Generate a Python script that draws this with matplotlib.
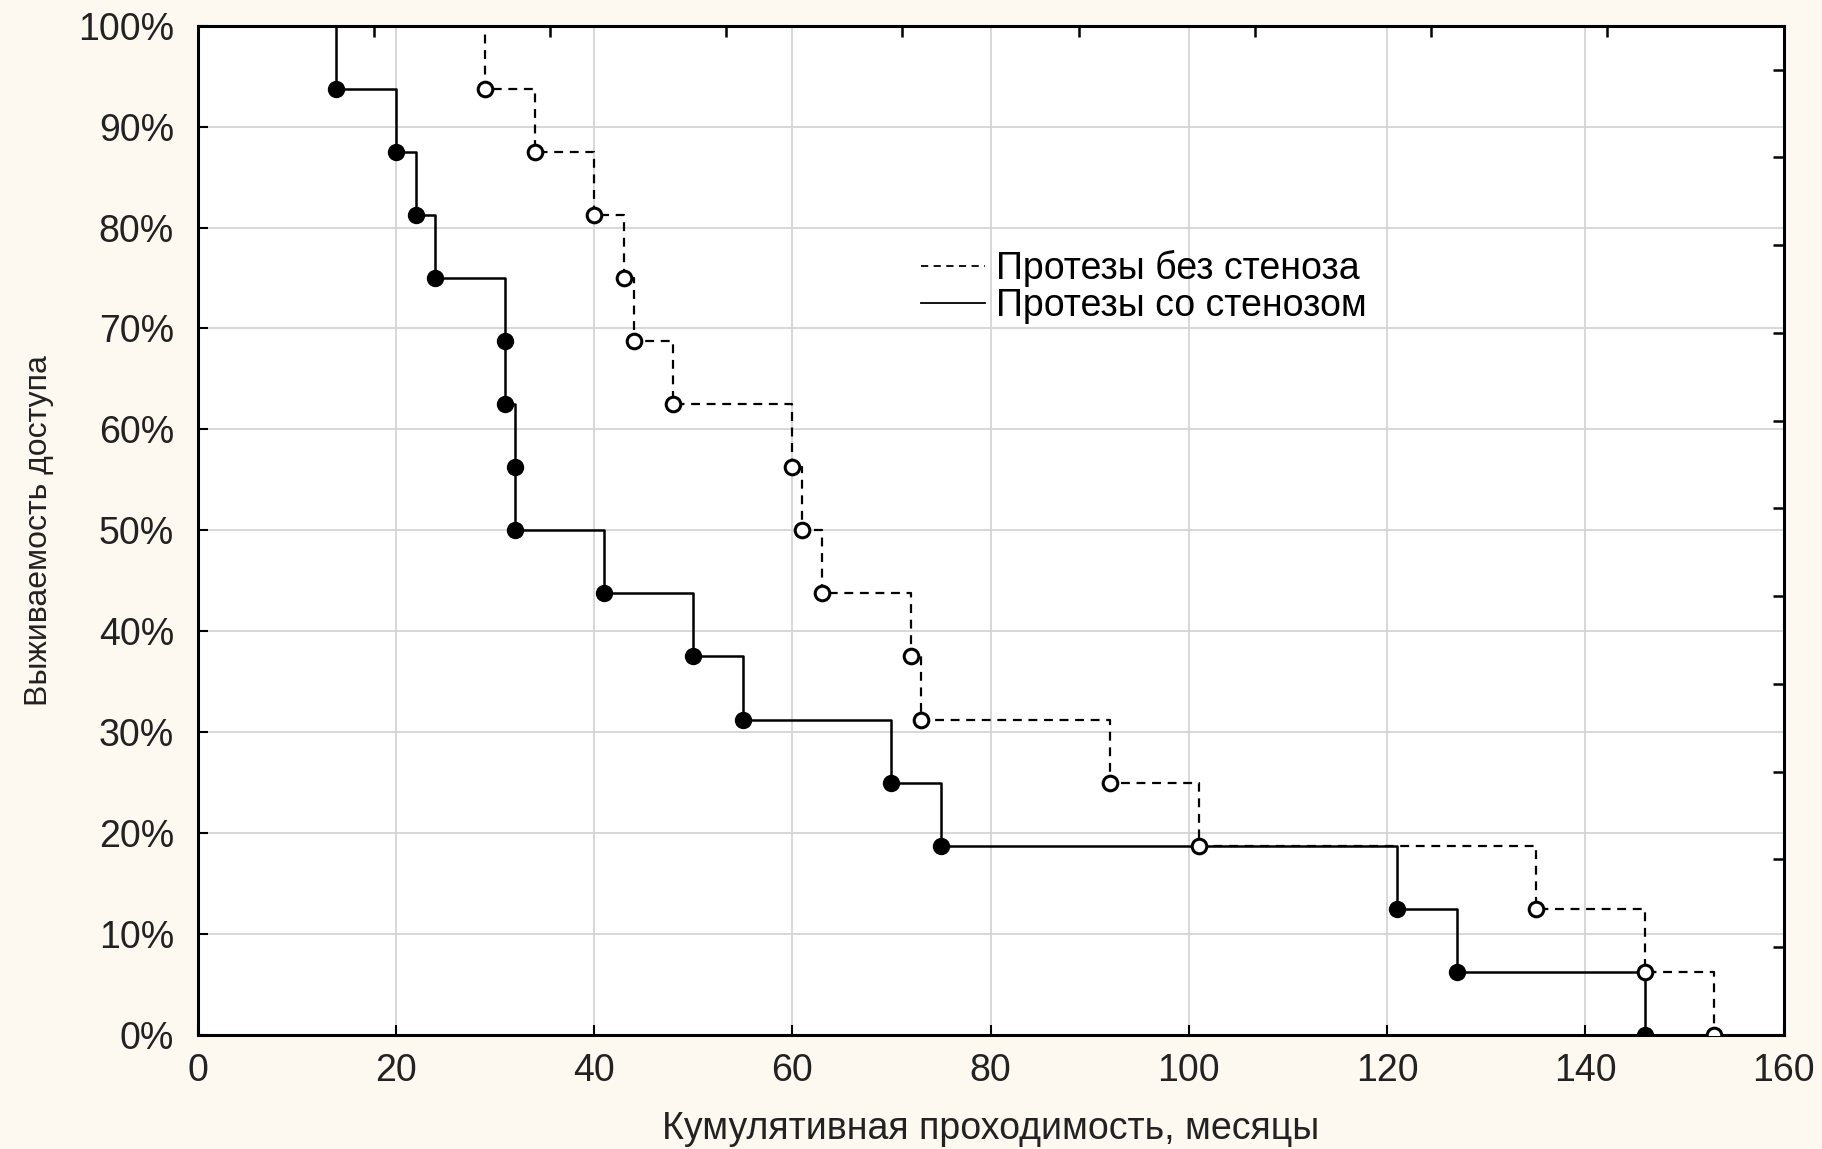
import matplotlib
matplotlib.use("Agg")
import matplotlib.pyplot as plt
from matplotlib.lines import Line2D

# ---- data ----
# Protheses without stenosis (dashed, open circles)
t_no = [29, 34, 40, 43, 44, 48, 60, 61, 63, 72, 73, 92, 101, 135, 146, 153]
s_no = [93.75, 87.5, 81.25, 75.0, 68.75, 62.5, 56.25, 50.0, 43.75, 37.5,
        31.25, 25.0, 18.75, 12.5, 6.25, 0.0]
# Protheses with stenosis (solid, filled circles)
t_st = [14, 20, 22, 24, 31, 31, 32, 32, 41, 50, 55, 70, 75, 121, 127, 146]
s_st = [93.75, 87.5, 81.25, 75.0, 68.75, 62.5, 56.25, 50.0, 43.75, 37.5,
        31.25, 25.0, 18.75, 12.5, 6.25, 0.0]

x_ticks = [0, 20, 40, 60, 80, 100, 120, 140, 160]
y_ticks = [0, 10, 20, 30, 40, 50, 60, 70, 80, 90, 100]
y_ticklabels = [f"{v}%" for v in y_ticks]
labels = ["Протезы без стеноза", "Протезы со стенозом"]
xlabel = "Кумулятивная проходимость, месяцы"
ylabel = "Выживаемость доступа"

FONT = ["Liberation Sans", "DejaVu Sans"]
plt.rcParams["font.family"] = FONT

fig = plt.figure(figsize=(18.22, 11.49), dpi=100, facecolor="#fdf9f1")
ax = fig.add_axes([0.1084, 0.0992, 0.979 - 0.1084, 0.9777 - 0.0992])
ax.set_facecolor("white")

# step curves
xs_no = [0] + t_no
ys_no = [100] + s_no
xs_st = [0] + t_st
ys_st = [100] + s_st
ax.step(xs_no, ys_no, where="post", color="black", lw=1.6,
        linestyle=(0, (4, 3)), zorder=3)
ax.step(xs_st, ys_st, where="post", color="black", lw=1.8, zorder=3)

ax.plot(t_no, s_no, linestyle="none", marker="o", markersize=10.5,
        markerfacecolor="white", markeredgecolor="black",
        markeredgewidth=2.2, zorder=4)
ax.plot(t_st, s_st, linestyle="none", marker="o", markersize=11.5,
        markerfacecolor="black", markeredgecolor="black", zorder=5)

ax.set_xlim(0, 160)
ax.set_ylim(0, 100)
ax.set_xticks(x_ticks)
ax.set_yticks(y_ticks)
ax.set_yticklabels(y_ticklabels)
ax.grid(True, color="#d4d4d4", lw=1.3)
ax.set_axisbelow(True)

ax.tick_params(axis="both", direction="in", length=7, width=1.5,
               labelsize=27, colors="black", labelcolor="#222222")
ax.tick_params(axis="x", pad=13)
ax.tick_params(axis="y", pad=17)

for sp in ax.spines.values():
    sp.set_linewidth(2.2)
    sp.set_color("black")

# secondary ticks on top and right (as in the original software output)
axt = ax.secondary_xaxis("top")
axt.set_xticks([160 / 9 * k for k in range(1, 9)])
axt.tick_params(direction="in", length=8, width=1.8, labeltop=False)
axr = ax.secondary_yaxis("right")
axr.set_yticks([100 / 11.5 * k for k in range(1, 12)])
axr.tick_params(direction="in", length=8, width=1.8, labelright=False)

ax.set_xlabel(xlabel, fontsize=27, color="#222222", labelpad=16)
ax.set_ylabel(ylabel, fontsize=23, color="#222222", labelpad=17)

handles = [Line2D([0], [0], color="black", lw=1.3, linestyle=(0, (4, 3))),
           Line2D([0], [0], color="black", lw=1.3)]
ax.legend(handles, labels, loc="upper left", bbox_to_anchor=(0.456, 0.778),
          frameon=False, fontsize=27, handlelength=1.7, handletextpad=0.3,
          labelspacing=0.03, borderaxespad=0, borderpad=0)

fig.savefig("out.png", dpi=100, facecolor=fig.get_facecolor())
